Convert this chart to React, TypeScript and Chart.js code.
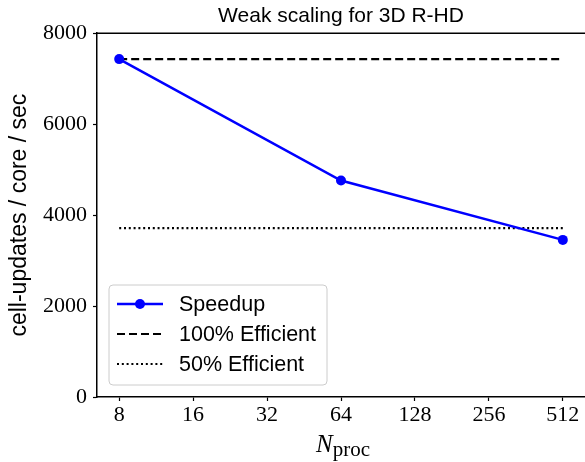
import React, { useEffect, useRef } from "react";
import { Chart, registerables } from "chart.js";

Chart.register(...registerables);

const nProc = [8, 64, 512];
const speedup = [7430, 4760, 3455];
const refProc = [8, 512];
const efficient100 = [7430, 7430];
const efficient50 = [3715, 3715];
const xTicks = [8, 16, 32, 64, 128, 256, 512];
const yTicks = [0, 2000, 4000, 6000, 8000];
const titleText = "Weak scaling for 3D R-HD";
const yLabel = "cell-updates / core / sec";
const legendLabels = ["Speedup", "100% Efficient", "50% Efficient"];

const SANS = "'Liberation Sans', Arial, sans-serif";
const SERIF = "'Liberation Serif', 'DejaVu Serif', serif";

const extrasPlugin = {
  id: "extras",
  afterDraw(chart: any) {
    const ctx = chart.ctx;
    const ca = chart.chartArea;
    ctx.save();
    // clear anything at the far right edge (no right spine in the reference)
    ctx.fillStyle = "#fff";
    ctx.fillRect(ca.right - 4, ca.top + 1, 8, ca.bottom - ca.top - 2);

    // top spine
    ctx.strokeStyle = "#000";
    ctx.lineWidth = 1.5;
    ctx.beginPath();
    ctx.moveTo(ca.left - 0.75, ca.top);
    ctx.lineTo(ca.right, ca.top);
    ctx.stroke();

    // x-axis label N_proc
    ctx.fillStyle = "#000";
    ctx.textBaseline = "alphabetic";
    ctx.font = "italic 25px " + SERIF;
    const nW = ctx.measureText("N").width;
    ctx.font = "21px " + SERIF;
    const pW = ctx.measureText("proc").width;
    const cx = (ca.left + ca.right) / 2 + 2;
    const startX = cx - (nW + pW) / 2;
    ctx.font = "italic 25px " + SERIF;
    ctx.textAlign = "left";
    ctx.fillText("N", startX, 452);
    ctx.font = "21px " + SERIF;
    ctx.fillText("proc", startX + nW, 456);

    // legend
    const bx = 109, by = 285, bw = 218, bh = 100, r = 4;
    ctx.beginPath();
    ctx.moveTo(bx + r, by);
    ctx.lineTo(bx + bw - r, by);
    ctx.quadraticCurveTo(bx + bw, by, bx + bw, by + r);
    ctx.lineTo(bx + bw, by + bh - r);
    ctx.quadraticCurveTo(bx + bw, by + bh, bx + bw - r, by + bh);
    ctx.lineTo(bx + r, by + bh);
    ctx.quadraticCurveTo(bx, by + bh, bx, by + bh - r);
    ctx.lineTo(bx, by + r);
    ctx.quadraticCurveTo(bx, by, bx + r, by);
    ctx.closePath();
    ctx.fillStyle = "rgba(255,255,255,0.8)";
    ctx.fill();
    ctx.strokeStyle = "#cccccc";
    ctx.lineWidth = 1;
    ctx.stroke();

    const rows = [304, 334, 364];
    const styles = [
      { color: "#0000ff", dash: [] as number[], w: 2.5, marker: true },
      { color: "#000", dash: [8, 4], w: 2.2, marker: false },
      { color: "#000", dash: [2, 2.8], w: 2.2, marker: false },
    ];
    rows.forEach((yy, i) => {
      const s = styles[i];
      ctx.strokeStyle = s.color;
      ctx.lineWidth = s.w;
      ctx.setLineDash(s.dash);
      ctx.beginPath();
      ctx.moveTo(117, yy);
      ctx.lineTo(163, yy);
      ctx.stroke();
      ctx.setLineDash([]);
      if (s.marker) {
        ctx.fillStyle = s.color;
        ctx.beginPath();
        ctx.arc(140, yy, 5, 0, Math.PI * 2);
        ctx.fill();
      }
      ctx.fillStyle = "#000";
      ctx.font = "21.5px " + SANS;
      ctx.textBaseline = "middle";
      ctx.textAlign = "left";
      ctx.fillText(legendLabels[i], 179, yy + 1);
    });
    ctx.restore();
  },
};

export default function App() {
  const ref = useRef<HTMLCanvasElement | null>(null);
  useEffect(() => {
    if (!ref.current) return;
    const chart = new Chart(ref.current, {
      type: "line",
      data: {
        datasets: [
          {
            label: legendLabels[0],
            data: nProc.map((x, i) => ({ x, y: speedup[i] })),
            borderColor: "#0000ff",
            backgroundColor: "#0000ff",
            borderWidth: 2.5,
            pointRadius: 5,
            pointBorderWidth: 0,
            pointBackgroundColor: "#0000ff",
            clip: false as any,
            order: 0,
          },
          {
            label: legendLabels[1],
            data: refProc.map((x, i) => ({ x, y: efficient100[i] })),
            borderColor: "#000",
            borderWidth: 2.2,
            borderDash: [8, 4],
            pointRadius: 0,
            order: 1,
          },
          {
            label: legendLabels[2],
            data: refProc.map((x, i) => ({ x, y: efficient50[i] })),
            borderColor: "#000",
            borderWidth: 2.2,
            borderDash: [2, 2.8],
            pointRadius: 0,
            order: 2,
          },
        ],
      },
      options: {
        animation: false,
        responsive: false,
        maintainAspectRatio: false,
        layout: { autoPadding: false, padding: { left: 0, right: 0, top: 0, bottom: 0 } } as any,
        plugins: {
          legend: { display: false },
          tooltip: { enabled: false },
          title: {
            display: true,
            text: titleText,
            fullSize: false,
            color: "#000",
            font: { family: SANS, size: 21, weight: "normal" as any, lineHeight: 1.2 },
            padding: { top: 4, bottom: 4 },
          },
        },
        scales: {
          x: {
            type: "logarithmic",
            min: Math.pow(2, 2.7),
            max: Math.pow(2, 9.3),
            afterBuildTicks: (scale: any) => {
              scale.ticks = xTicks.map((v) => ({ value: v }));
            },
            afterFit: (scale: any) => {
              scale.height = 65;
              scale.paddingLeft = 0;
              scale.paddingRight = 0;
            },
            ticks: {
              autoSkip: false,
              maxRotation: 0,
              color: "#000",
              padding: 1,
              font: { family: SERIF, size: 22 },
              callback: (v: any) => String(v),
            },
            grid: {
              drawOnChartArea: false,
              drawTicks: true,
              tickLength: 4,
              tickColor: "#000",
              tickWidth: 1.2,
            },
            border: { display: true, color: "#000", width: 1.5 },
          },
          y: {
            type: "linear",
            min: 0,
            max: 8000,
            afterBuildTicks: (scale: any) => {
              scale.ticks = yTicks.map((v) => ({ value: v }));
            },
            afterFit: (scale: any) => {
              scale.width = 97;
              scale.paddingTop = 0;
              scale.paddingBottom = 0;
            },
            ticks: {
              color: "#000",
              padding: 6,
              font: { family: SERIF, size: 22 },
              callback: (v: any) => String(v),
            },
            grid: {
              drawOnChartArea: false,
              drawTicks: true,
              tickLength: 4,
              tickColor: "#000",
              tickWidth: 1.2,
            },
            border: { display: true, color: "#000", width: 1.5 },
            title: {
              display: true,
              text: yLabel,
              color: "#000",
              font: { family: SANS, size: 23, lineHeight: 1.2 },
              padding: { top: 6, bottom: 0 },
            },
          },
        },
      },
      plugins: [extrasPlugin],
    });
    return () => chart.destroy();
  }, []);
  return (
    <div style={{ position: "fixed", left: 0, top: 0, width: 585, height: 462, background: "#fff" }}>
      <canvas ref={ref} width={585} height={462} style={{ display: "block", width: 585, height: 462 }} />
    </div>
  );
}
